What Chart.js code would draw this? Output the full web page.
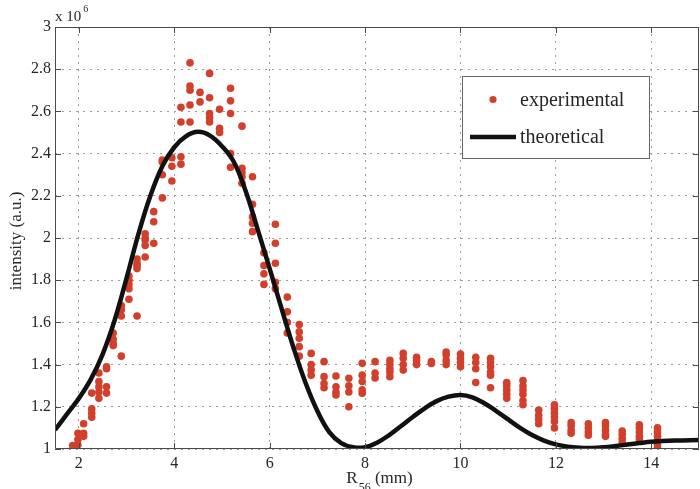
<!DOCTYPE html>
<html><head><meta charset="utf-8">
<script src="https://cdn.jsdelivr.net/npm/chart.js@4.4.1/dist/chart.umd.min.js"></script>
<style>html,body{margin:0;padding:0;background:#fff}#wrap{width:700px;height:489px}</style>
</head><body><div id="wrap"><canvas id="c" width="700" height="489"></canvas></div>
<script>
// ---- data (intensity in units of 1e6, R56 in mm) ----
const xTicks = [2, 4, 6, 8, 10, 12, 14];
const xTickLabels = ['2', '4', '6', '8', '10', '12', '14'];
const yTicks = [1, 1.2, 1.4, 1.6, 1.8, 2, 2.2, 2.4, 2.6, 2.8, 3];
const yTickLabels = ['1', '1.2', '1.4', '1.6', '1.8', '2', '2.2', '2.4', '2.6', '2.8', '3'];

const expColX = [1.87, 1.98, 2.1, 2.27, 2.42, 2.58, 2.72, 2.89, 3.05, 3.22, 3.39, 3.57, 3.75, 3.95, 4.14, 4.33,
  4.54, 4.74, 4.95, 5.18, 5.42, 5.64, 5.88, 6.12, 6.37, 6.62, 6.87, 7.14, 7.39, 7.66, 7.94, 8.21, 8.52, 8.8,
  9.08, 9.39, 9.7, 10.0, 10.32, 10.63, 10.97, 11.31, 11.64, 11.97, 12.32, 12.68, 13.04, 13.39, 13.75, 14.13];
const expColY = [
  [1.016], [1.02, 1.045, 1.075], [1.06, 1.075, 1.12], [1.15, 1.17, 1.19, 1.265], [1.24, 1.27, 1.295, 1.32, 1.36],
  [1.265, 1.295, 1.38, 1.39], [1.49, 1.5, 1.52, 1.55], [1.44, 1.63, 1.66, 1.68], [1.71, 1.76, 1.78, 1.8, 1.82],
  [1.63, 1.855, 1.87, 1.88, 1.9], [1.91, 1.965, 1.99, 2.0, 2.02], [1.975, 2.077, 2.125], [2.19, 2.3, 2.36, 2.37],
  [2.27, 2.34, 2.38], [2.35, 2.385, 2.55, 2.62], [2.55, 2.63, 2.7, 2.72, 2.83], [2.645, 2.69],
  [2.55, 2.57, 2.59, 2.665, 2.78], [2.5, 2.52, 2.61], [2.335, 2.4, 2.59, 2.65, 2.71], [2.26, 2.29, 2.31, 2.33, 2.53],
  [2.03, 2.07, 2.1, 2.16, 2.29], [1.78, 1.83, 1.87, 1.93], [1.76, 1.79, 1.88, 1.975, 2.065], [1.55, 1.6, 1.65, 1.72],
  [1.44, 1.485, 1.525, 1.555, 1.59], [1.35, 1.375, 1.4, 1.453], [1.29, 1.31, 1.343, 1.414], [1.256, 1.27, 1.295, 1.346],
  [1.2, 1.27, 1.3, 1.335], [1.264, 1.28, 1.32, 1.35, 1.406], [1.337, 1.36, 1.414], [1.343, 1.365, 1.38, 1.4, 1.42],
  [1.374, 1.4, 1.43, 1.453], [1.4, 1.42, 1.435], [1.405, 1.415], [1.4, 1.42, 1.445, 1.46], [1.39, 1.41, 1.43, 1.45],
  [1.315, 1.38, 1.41, 1.435], [1.29, 1.35, 1.365, 1.39, 1.41, 1.43], [1.24, 1.26, 1.28, 1.3, 1.315],
  [1.21, 1.23, 1.26, 1.28, 1.3, 1.325], [1.12, 1.14, 1.16, 1.185], [1.1, 1.13, 1.15, 1.17, 1.19, 1.21],
  [1.075, 1.09, 1.11, 1.125], [1.065, 1.08, 1.1, 1.12], [1.06, 1.07, 1.09, 1.11, 1.125], [1.03, 1.05, 1.07, 1.085],
  [1.045, 1.06, 1.08, 1.1, 1.115], [1.005, 1.02, 1.04, 1.06, 1.08, 1.1]];

const theoX = [1.5, 1.75, 2.0, 2.25, 2.5, 2.75, 3.0, 3.25, 3.5, 3.75, 4.0, 4.25, 4.5, 4.75, 5.0, 5.25, 5.5, 5.75,
  6.0, 6.25, 6.5, 6.75, 7.0, 7.25, 7.5, 7.75, 8.0, 8.25, 8.5, 8.75, 9.0, 9.25, 9.5, 9.75, 10.0, 10.25, 10.5,
  10.75, 11.0, 11.25, 11.5, 11.75, 12.0, 12.25, 12.5, 12.75, 13.0, 13.25, 13.5, 13.75, 14.0, 14.5, 15.0];
const theoY = [1.09, 1.165, 1.24, 1.33, 1.45, 1.61, 1.81, 2.02, 2.2, 2.34, 2.43, 2.483, 2.503, 2.485, 2.435, 2.36,
  2.22, 2.04, 1.855, 1.665, 1.48, 1.315, 1.18, 1.08, 1.028, 1.008, 1.008, 1.03, 1.065, 1.108, 1.152, 1.193, 1.227,
  1.248, 1.256, 1.245, 1.217, 1.18, 1.14, 1.1, 1.066, 1.04, 1.022, 1.011, 1.006, 1.005, 1.008, 1.014, 1.021, 1.028,
  1.034, 1.04, 1.043];

const seriesNames = ['experimental', 'theoretical'];
const xTitleMain = 'R', xTitleSub = '56', xTitleRest = ' (mm)';
const yTitle = 'intensity (a.u.)';
const scaleNote = 'x 10', scaleExp = '6';

// ---- build ----
const expPoints = [];
expColX.forEach((x, i) => expColY[i].forEach(y => expPoints.push({x, y})));
const theoPoints = theoX.map((x, i) => ({x, y: theoY[i]}));

const RED = '#d23f2b';
const INK = '#262626';
const SERIF = '"Liberation Serif", "Times New Roman", serif';

const decor = {
  id: 'decor',
  afterDatasetsDraw(chart) {
    const {ctx, chartArea: a, scales: {x, y}} = chart;
    ctx.save();
    ctx.strokeStyle = '#4a4a4a';
    ctx.lineWidth = 1;
    ctx.beginPath();
    ctx.rect(Math.round(a.left) + 0.5, Math.round(a.top) + 0.5, Math.round(a.right - a.left) - 1, Math.round(a.bottom - a.top) - 1);
    ctx.stroke();
    // inward ticks
    ctx.beginPath();
    xTicks.forEach(v => {
      const px = Math.round(x.getPixelForValue(v)) + 0.5;
      ctx.moveTo(px, a.bottom); ctx.lineTo(px, a.bottom - 6);
      ctx.moveTo(px, a.top); ctx.lineTo(px, a.top + 6);
    });
    yTicks.forEach(v => {
      const py = Math.round(y.getPixelForValue(v)) + 0.5;
      ctx.moveTo(a.left, py); ctx.lineTo(a.left + 6, py);
      ctx.moveTo(a.right, py); ctx.lineTo(a.right - 6, py);
    });
    ctx.stroke();
    ctx.restore();
  },
  afterDraw(chart) {
    const {ctx} = chart;
    ctx.save();
    ctx.fillStyle = INK;
    // y title
    ctx.save();
    ctx.translate(17, 241);
    ctx.rotate(-Math.PI / 2);
    ctx.font = '17px ' + SERIF;
    ctx.textAlign = 'center';
    ctx.textBaseline = 'middle';
    ctx.fillText(yTitle, 0, 0);
    ctx.restore();
    // x title with subscript
    ctx.textBaseline = 'alphabetic';
    ctx.textAlign = 'left';
    ctx.font = '17px ' + SERIF;
    const wR = ctx.measureText(xTitleMain).width;
    const wRest = ctx.measureText(xTitleRest).width;
    ctx.font = '12px ' + SERIF;
    const wSub = ctx.measureText(xTitleSub).width;
    let sx = 379 - (wR + wSub + wRest) / 2;
    ctx.font = '17px ' + SERIF;
    ctx.fillText(xTitleMain, sx, 483);
    ctx.font = '12px ' + SERIF;
    ctx.fillText(xTitleSub, sx + wR + 1, 491);
    ctx.font = '17px ' + SERIF;
    ctx.fillText(xTitleRest, sx + wR + wSub + 1, 483);
    // scale note
    ctx.font = '15px ' + SERIF;
    ctx.fillText(scaleNote, 55, 21);
    const wN = ctx.measureText(scaleNote).width;
    ctx.font = '10px ' + SERIF;
    ctx.fillText(scaleExp, 55 + wN + 2, 12);
    // legend
    const L = 462, T = 76, R = 650, B = 159;
    ctx.fillStyle = '#fff';
    ctx.fillRect(L, T, R - L, B - T);
    ctx.strokeStyle = '#666';
    ctx.lineWidth = 1;
    ctx.strokeRect(L + 0.5, T + 0.5, R - L - 1, B - T - 1);
    ctx.fillStyle = RED;
    ctx.beginPath();
    ctx.arc(493, 99.5, 3.6, 0, Math.PI * 2);
    ctx.fill();
    ctx.strokeStyle = '#111';
    ctx.lineWidth = 4.5;
    ctx.beginPath();
    ctx.moveTo(470, 137); ctx.lineTo(516, 137);
    ctx.stroke();
    ctx.fillStyle = INK;
    ctx.font = '20px ' + SERIF;
    ctx.textBaseline = 'alphabetic';
    ctx.fillText(seriesNames[0], 520, 106);
    ctx.fillText(seriesNames[1], 520, 143);
    ctx.restore();
  }
};

const gridCommon = {color: '#9c9c9c', lineWidth: 1, drawTicks: false, tickLength: 0};

new Chart(document.getElementById('c'), {
  type: 'scatter',
  data: {
    datasets: [
      {label: seriesNames[0], data: expPoints, backgroundColor: RED, borderColor: RED, pointRadius: 3.8,
       pointBorderWidth: 0, pointHoverRadius: 3.8, order: 2},
      {label: seriesNames[1], data: theoPoints, showLine: true, borderColor: '#111', backgroundColor: '#111',
       borderWidth: 4.5, pointRadius: 0, pointHoverRadius: 0, tension: 0.4, order: 1}
    ]
  },
  options: {
    responsive: false,
    animation: false,
    devicePixelRatio: 1,
    layout: {autoPadding: false, padding: {top: 27, right: 1, left: 0, bottom: 0}},
    plugins: {legend: {display: false}, tooltip: {enabled: false}},
    scales: {
      x: {
        type: 'linear', min: 1.5, max: 15,
        afterBuildTicks: s => { s.ticks = xTicks.map(v => ({value: v})); },
        afterFit: s => { s.height = 40; },
        ticks: {callback: (v, i) => xTickLabels[i], color: INK, padding: 5,
                font: {family: SERIF, size: 16}, maxRotation: 0, autoSkip: false},
        grid: gridCommon,
        border: {display: false, dash: [2, 5]}
      },
      y: {
        type: 'linear', min: 1, max: 3,
        afterBuildTicks: s => { s.ticks = yTicks.map(v => ({value: v})); },
        afterFit: s => { s.width = 55; },
        ticks: {callback: (v, i) => yTickLabels[i], color: INK, padding: 4,
                font: {family: SERIF, size: 16}, autoSkip: false},
        grid: gridCommon,
        border: {display: false, dash: [2, 5]}
      }
    }
  },
  plugins: [decor]
});
</script>
</body></html>
